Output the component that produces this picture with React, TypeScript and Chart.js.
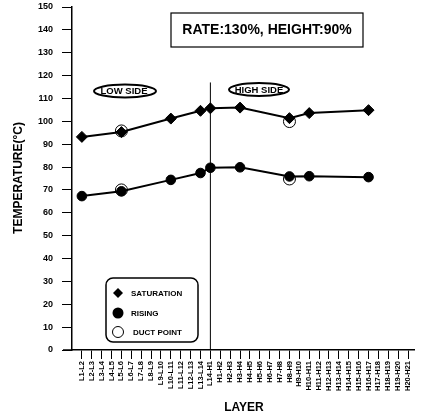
import { useEffect, useRef } from "react";
import { Chart, registerables } from "chart.js";

Chart.register(...registerables);

const layers = [
  "L1-L2", "L2-L3", "L3-L4", "L4-L5", "L5-L6", "L6-L7", "L7-L8", "L8-L9", "L9-L10",
  "L10-L11", "L11-L12", "L12-L13", "L13-L14", "L14-H1", "H1-H2", "H2-H3", "H3-H4",
  "H4-H5", "H5-H6", "H6-H7", "H7-H8", "H8-H9", "H9-H10", "H10-H11", "H11-H12",
  "H12-H13", "H13-H14", "H14-H15", "H15-H16", "H16-H17", "H17-H18", "H18-H19",
  "H19-H20", "H20-H21",
];

const measuredAt = [0, 4, 9, 12, 13, 16, 21, 23, 29];
const saturation = [93.2, 95.3, 101.2, 104.6, 105.7, 106.0, 101.4, 103.6, 104.9];
const rising = [67.3, 69.4, 74.4, 77.4, 79.7, 79.9, 75.9, 76.0, 75.6];

const ductAt = [4, 21];
const ductSaturation = [95.8, 99.9];
const ductRising = [70.0, 74.8];

const yTicks = [0, 150, 10];
const boundaryLayer = "L14-H1";
const rateText = "RATE:130%, HEIGHT:90%";
const lowSide = "LOW SIDE";
const highSide = "HIGH SIDE";

const FONT = "'Liberation Sans', Arial, sans-serif";

export default function App() {
  const ref = useRef<HTMLCanvasElement>(null);

  useEffect(() => {
    const pts = (idx: number[], vals: number[]) => idx.map((x, i) => ({ x, y: vals[i] }));

    const overlay = {
      id: "overlay",
      beforeDatasetsDraw(chart: any) {
        const ctx = chart.ctx;
        const xs = chart.scales.x;
        const ys = chart.scales.y;
        const bx = xs.getPixelForValue(layers.indexOf(boundaryLayer));
        ctx.save();
        ctx.strokeStyle = "#000";
        ctx.lineWidth = 1;
        ctx.beginPath();
        ctx.moveTo(bx, ys.getPixelForValue(117));
        ctx.lineTo(bx, ys.getPixelForValue(0));
        ctx.stroke();
        // extension of x axis to the left
        ctx.lineWidth = 1.5;
        ctx.beginPath();
        ctx.moveTo(chart.chartArea.left - 9, ys.getPixelForValue(0));
        ctx.lineTo(chart.chartArea.left, ys.getPixelForValue(0));
        ctx.stroke();
        ctx.restore();
      },
      afterDraw(chart: any) {
        const ctx = chart.ctx;
        ctx.save();
        ctx.fillStyle = "#000";
        ctx.strokeStyle = "#000";

        // rate box
        ctx.lineWidth = 1.2;
        ctx.strokeRect(171, 13, 192, 34);
        ctx.font = `bold 14px ${FONT}`;
        ctx.textAlign = "center";
        ctx.textBaseline = "middle";
        ctx.fillText(rateText, 267, 30.5);

        // side ellipses
        ctx.lineWidth = 2;
        ctx.beginPath();
        ctx.ellipse(125, 91, 31, 6.5, 0, 0, Math.PI * 2);
        ctx.stroke();
        ctx.beginPath();
        ctx.ellipse(259, 89.5, 30, 6.5, 0, 0, Math.PI * 2);
        ctx.stroke();
        ctx.font = `bold 9.5px ${FONT}`;
        ctx.fillText(lowSide, 124, 91.5);
        ctx.fillText(highSide, 259, 90);

        // legend box
        ctx.lineWidth = 1.5;
        ctx.beginPath();
        (ctx as any).roundRect(106, 278, 92, 64, 7);
        ctx.stroke();
        // diamond
        ctx.beginPath();
        ctx.moveTo(118, 288);
        ctx.lineTo(123, 293);
        ctx.lineTo(118, 298);
        ctx.lineTo(113, 293);
        ctx.closePath();
        ctx.fill();
        // filled circle
        ctx.beginPath();
        ctx.arc(118, 313, 5.5, 0, Math.PI * 2);
        ctx.fill();
        // open circle
        ctx.lineWidth = 1;
        ctx.beginPath();
        ctx.arc(118, 332, 5.5, 0, Math.PI * 2);
        ctx.stroke();
        ctx.font = `bold 8px ${FONT}`;
        ctx.textAlign = "left";
        ctx.fillText("SATURATION", 131, 293.5);
        ctx.fillText("RISING", 131, 313.5);
        ctx.fillText("DUCT POINT", 133, 332.5);

        // axis titles
        ctx.font = `bold 12px ${FONT}`;
        ctx.textAlign = "center";
        ctx.fillText("LAYER", 244, 408);
        ctx.save();
        ctx.translate(19, 178);
        ctx.rotate(-Math.PI / 2);
        ctx.font = `bold 12px ${FONT}`;
        ctx.fillText("TEMPERATURE(°C)", 0, 0);
        ctx.restore();

        ctx.restore();
      },
    };

    const lineSet = (label: string, data: any[], style: string, r: number) => ({
      label,
      data,
      showLine: true,
      borderColor: "#000",
      backgroundColor: "#000",
      borderWidth: 2,
      pointStyle: style,
      pointRadius: r,
      pointBorderWidth: 1,
    });
    const ductSet = (label: string, data: any[]) => ({
      label,
      data,
      showLine: false,
      borderColor: "#000",
      backgroundColor: "rgba(0,0,0,0)",
      pointStyle: "circle",
      pointRadius: 6,
      pointBorderWidth: 1,
    });

    const chart = new Chart(ref.current!, {
      type: "scatter",
      data: {
        datasets: [
          lineSet("SATURATION", pts(measuredAt, saturation), "rectRot", 5.5),
          lineSet("RISING", pts(measuredAt, rising), "circle", 4.8),
          ductSet("DUCT POINT", pts(ductAt, ductSaturation)),
          ductSet("DUCT POINT ", pts(ductAt, ductRising)),
        ] as any,
      },
      options: {
        animation: false,
        responsive: false,
        devicePixelRatio: 1,
        layout: { padding: { top: 6, right: 4, left: 0, bottom: 0 } },
        plugins: { legend: { display: false }, tooltip: { enabled: false } },
        scales: {
          x: {
            type: "linear",
            min: -1,
            max: 33.6,
            afterBuildTicks: (s: any) => {
              s.ticks = layers.map((_, i) => ({ value: i }));
            },
            afterFit: (s: any) => {
              s.height = 66;
              s.paddingLeft = 0;
              s.paddingRight = 0;
            },
            ticks: {
              autoSkip: false,
              maxRotation: 90,
              minRotation: 90,
              padding: 2,
              color: "#000",
              font: { family: FONT, weight: "bold", size: 7.5 },
              callback: (v: any) => layers[v] ?? "",
            },
            grid: { drawOnChartArea: false, tickLength: 9, color: "#000", lineWidth: 1 },
            border: { color: "#000", width: 1.5 },
          },
          y: {
            min: yTicks[0],
            max: yTicks[1],
            afterFit: (s: any) => {
              s.width = 72;
              s.paddingTop = 0;
              s.paddingBottom = 0;
            },
            ticks: {
              stepSize: yTicks[2],
              padding: 9,
              color: "#000",
              font: { family: FONT, weight: "bold", size: 9 },
            },
            grid: { drawOnChartArea: false, tickLength: 10, color: "#000", lineWidth: 1 },
            border: { color: "#000", width: 1.5 },
          },
        },
      } as any,
      plugins: [overlay],
    });
    return () => chart.destroy();
  }, []);

  return (
    <div style={{ position: "fixed", left: 0, top: 0, width: 421, height: 416, background: "#fff" }}>
      <canvas ref={ref} width={421} height={416} style={{ display: "block", width: 421, height: 416 }} />
    </div>
  );
}
